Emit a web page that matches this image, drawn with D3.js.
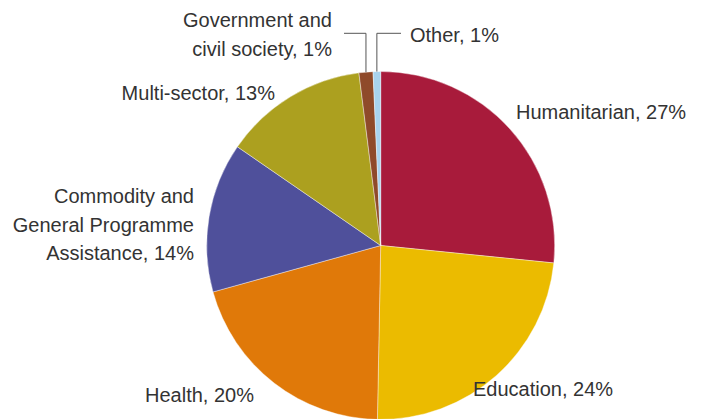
<!DOCTYPE html>
<html>
<head>
<meta charset="utf-8">
<script src="https://cdn.jsdelivr.net/npm/d3@7"></script>
<style>
  html, body { margin: 0; padding: 0; background: #fff; }
  svg { display: block; }
  .lbl { font-family: "Liberation Sans", Arial, sans-serif; font-size: 20px; fill: #333; }
</style>
</head>
<body>
<svg id="chart" width="702" height="419"></svg>
<script>
// Share of aid by sector (percent)
const categories = [
  "Humanitarian",
  "Education",
  "Health",
  "Commodity and General Programme Assistance",
  "Multi-sector",
  "Government and civil society",
  "Other"
];
const values = [26.6, 23.7, 20.4, 13.9, 13.4, 1.3, 0.7];
const colors = ["#A81B3B", "#EBBB00", "#E07909", "#4F509B", "#ACA01F", "#8F4A2A", "#A8D3EE"];
// Label text broken into lines; the percentage is appended to the last line
const labelLines = [
  ["Humanitarian"],
  ["Education"],
  ["Health"],
  ["Commodity and", "General Programme", "Assistance"],
  ["Multi-sector"],
  ["Government and", "civil society"],
  ["Other"]
];

const svg = d3.select("#chart");
const cx = 380.7, cy = 245.5, radius = 174;

const pie = d3.pie().sort(null).value(d => d).startAngle(0).endAngle(2 * Math.PI);
const arcs = pie(values);
const arc = d3.arc().innerRadius(0).outerRadius(radius);

const g = svg.append("g").attr("transform", `translate(${cx},${cy})`);
g.selectAll("path")
  .data(arcs)
  .join("path")
  .attr("d", arc)
  .attr("fill", (d, i) => colors[i])
  .attr("stroke", "#fff")
  .attr("stroke-width", 0.4);

// Label placement: anchor point of the first baseline, alignment, and leader info
const lineGap = 28.5;
const layout = [
  { x: 516, y: 119, anchor: "start" },
  { x: 473, y: 396, anchor: "start" },
  { x: 145, y: 401.5, anchor: "start" },
  { x: 194, y: 203, anchor: "end" },
  { x: 275, y: 100, anchor: "end" },
  { x: 332, y: 27, anchor: "end", leader: { y: 33.3, from: 344 } },
  { x: 410, y: 41.5, anchor: "start", leader: { y: 33.3, from: 401 } }
];

const pct = d3.format(".0f");
const labels = svg.append("g");
arcs.forEach((a, i) => {
  const L = layout[i];
  const lines = labelLines[i].slice();
  lines[lines.length - 1] += ", " + pct(values[i]) + "%";
  const t = labels.append("text")
    .attr("class", "lbl")
    .attr("text-anchor", L.anchor)
    .attr("x", L.x)
    .attr("y", L.y);
  lines.forEach((s, k) => {
    t.append("tspan").attr("x", L.x).attr("y", L.y + k * lineGap).text(s);
  });
  if (L.leader) {
    const mid = (a.startAngle + a.endAngle) / 2;
    const px = cx + radius * Math.sin(mid);
    const py = cy - radius * Math.cos(mid);
    labels.append("path")
      .attr("d", `M${L.leader.from},${L.leader.y}H${px}V${py}`)
      .attr("fill", "none")
      .attr("stroke", "#555")
      .attr("stroke-width", 1);
  }
});
</script>
</body>
</html>
